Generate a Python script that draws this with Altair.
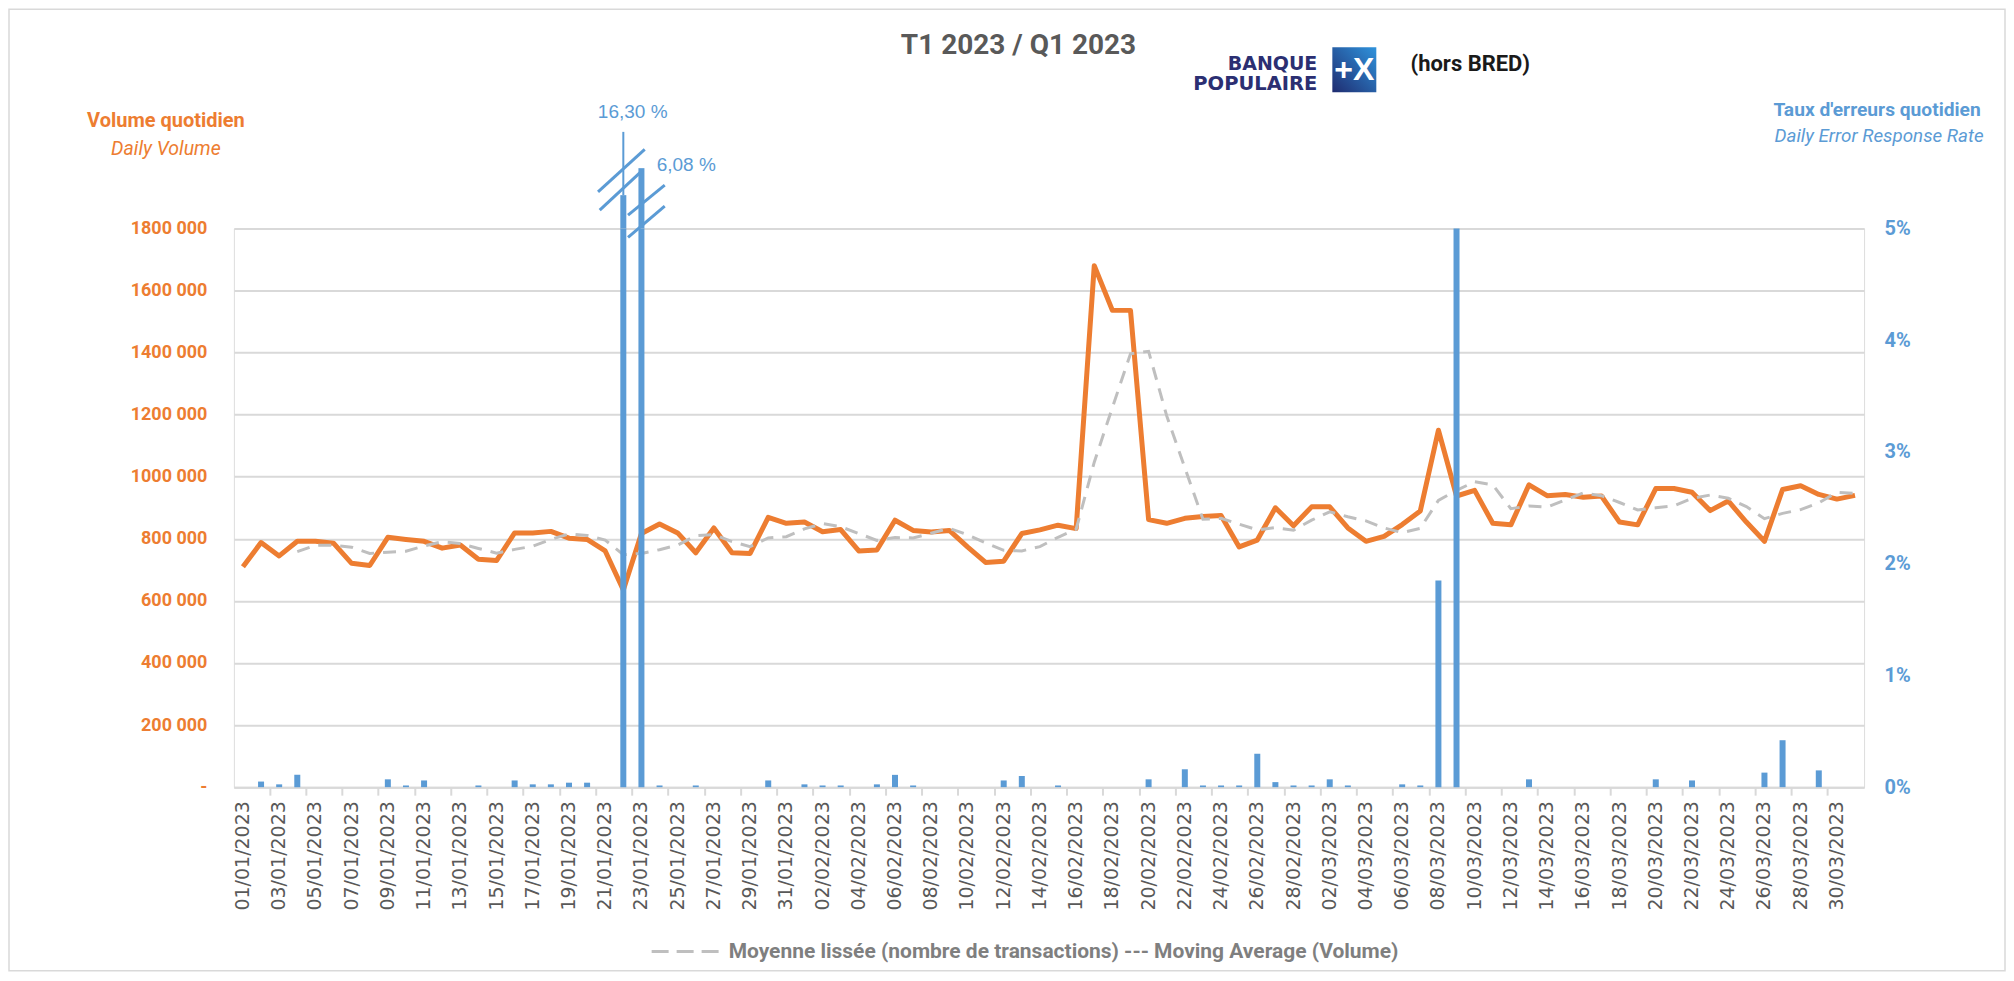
import altair as alt
import pandas as pd

# ---------------- data ----------------
dates = [d.strftime('%d/%m/%Y') for d in pd.date_range('2023-01-01', '2023-03-31')]
label_dates = dates[::2]

# daily volume, thousands of transactions
volume_k = [710, 788, 745, 792, 792, 786, 721, 714, 805, 798,
            792, 770, 780, 734, 730, 819, 819, 824, 802, 798,
            761, 635, 817, 848, 819, 755, 835, 755, 753, 869,
            850, 854, 823, 830, 761, 764, 860, 827, 822, 827,
            774, 724, 728, 817, 829, 844, 833, 1680, 1536, 1536,
            862, 850, 866, 872, 875, 774, 796, 900, 842, 903,
            903, 835, 792, 808, 846, 890, 1150, 938, 956, 850,
            845, 974, 939, 943, 934, 938, 854, 845, 962, 962,
            950, 891, 922, 854, 792, 959, 971, 943, 928, 940]

# moving average (volume), thousands
ma_k = [None, None, None, 759, 779, 779, 773, 753, 757, 760,
        777, 791, 785, 769, 754, 766, 776, 798, 816, 811,
        796, 749, 753, 765, 780, 810, 814, 791, 775, 803,
        807, 832, 849, 839, 817, 795, 804, 803, 818, 834,
        813, 787, 763, 761, 775, 805, 831, 1047, 1223, 1396,
        1404, 1196, 1029, 863, 866, 847, 829, 836, 828, 860,
        887, 871, 858, 835, 820, 834, 924, 956, 984, 974,
        897, 906, 902, 925, 948, 939, 917, 893, 900, 906,
        930, 941, 931, 904, 865, 882, 894, 916, 950, 946]

# daily error response rate, percent
rate_pct = [0, 0.05, 0.025, 0.11, 0, 0, 0, 0, 0.07, 0.015,
            0.06, 0, 0, 0.015, 0, 0.06, 0.025, 0.025, 0.04, 0.04,
            0, 16.30, 6.08, 0.015, 0, 0.015, 0, 0, 0, 0.06,
            0, 0.025, 0.015, 0.015, 0, 0.025, 0.11, 0.015, 0, 0,
            0, 0, 0.06, 0.10, 0, 0.015, 0, 0, 0, 0,
            0.07, 0, 0.16, 0.015, 0.015, 0.015, 0.30, 0.045, 0.015, 0.015,
            0.07, 0.015, 0, 0, 0.025, 0.015, 1.85, 5.00, 0, 0,
            0, 0.07, 0, 0, 0, 0, 0, 0, 0.07, 0,
            0.06, 0, 0, 0, 0.13, 0.42, 0, 0.15, 0, 0]

left_ticks = [0, 200000, 400000, 600000, 800000, 1000000, 1200000, 1400000, 1600000, 1800000]
right_ticks = [0, 0.01, 0.02, 0.03, 0.04, 0.05]
legend_label = 'Moyenne lissée (nombre de transactions) --- Moving Average (Volume)'

# ---------------- styling ----------------
ORANGE = '#ED7D31'
BLUE = '#5B9BD5'
GRID = '#D9D9D9'
FONT = 'Roboto'

W, H = 1631, 559
OX, OY = 234, 228.3          # page position of the plot origin
step = W / len(dates)

df = pd.DataFrame({
    'date': dates,
    'volume': [v * 1000 for v in volume_k],
    'ma': [None if m is None else m * 1000 for m in ma_k],
    'rate': [r / 100 for r in rate_pct],
    'serie': legend_label,
})
df_lab = pd.DataFrame({'date': label_dates})

x_axis = alt.Axis(values=label_dates, bandPosition=0, tickExtra=False, labels=False,
                  domainColor=GRID, domainWidth=2, tickColor=GRID, tickWidth=2,
                  tickSize=8, grid=False, title=None)
x_enc = alt.X('date:N', scale=alt.Scale(domain=dates, paddingInner=0, paddingOuter=0),
              axis=x_axis)

left_axis = alt.Axis(orient='left', values=left_ticks, grid=True, gridColor=GRID, gridWidth=2,
                     domain=False, ticks=False, tickSize=0, labelPadding=27,
                     labelColor=ORANGE, labelFont=FONT, labelFontWeight='bold',
                     labelFontSize=18, title=None,
                     labelExpr="datum.value == 0 ? '-\u00a0\u00a0' : floor(datum.value / 1000) + ' 000'")
vol_scale = alt.Scale(domain=[0, 1800000], nice=False, zero=True)

vol_line = alt.Chart(df).mark_line(color=ORANGE, strokeWidth=5, strokeJoin='round').encode(
    x=x_enc, y=alt.Y('volume:Q', scale=vol_scale, axis=left_axis))

ma_line = alt.Chart(df).mark_line(strokeWidth=3, strokeDash=[13, 9]).encode(
    x=x_enc, y=alt.Y('ma:Q', scale=vol_scale, axis=left_axis),
    color=alt.Color('serie:N', scale=alt.Scale(range=['#BFBFBF']),
                    legend=alt.Legend(title=None, orient='none', legendX=416, legendY=688,
                                      symbolType='stroke', symbolSize=4500,
                                      symbolStrokeWidth=3, symbolDash=[17, 8],
                                      symbolStrokeColor='#BFBFBF', labelFont=FONT,
                                      labelFontSize=21, labelFontWeight='bold',
                                      labelColor='#7F7F7F', labelLimit=0, labelOffset=8,
                                      padding=0)))

right_axis = alt.Axis(orient='right', values=right_ticks, format='.0%', grid=False,
                      domain=False, ticks=False, tickSize=0, labelPadding=20,
                      labelColor=BLUE, labelFont=FONT, labelFontWeight='bold',
                      labelFontSize=20, title=None)
bars = alt.Chart(df).mark_bar(color=BLUE, size=6).encode(
    x=x_enc,
    y=alt.Y('rate:Q', scale=alt.Scale(domain=[0, 0.05], nice=False, clamp=True), axis=right_axis))

# category labels (every other day), rotated like the reference axis
x_labels = alt.Chart(df_lab).mark_text(angle=270, align='right', baseline='middle',
                                       font='DejaVu Sans', fontSize=19, color='#595959').encode(
    x=alt.X('date:N'), y=alt.value(H + 14), text='date:N')

one = pd.DataFrame({'k': [0]})


def rule(x1, y1, x2, y2, width, color=BLUE):
    return alt.Chart(one).mark_rule(color=color, strokeWidth=width).encode(
        x=alt.value(x1), y=alt.value(y1), x2=alt.value(x2), y2=alt.value(y2))


def text(t, px, py, size, color, weight='normal', style='normal', font=FONT, align='center'):
    return alt.Chart(one).mark_text(text=t, font=font, fontSize=size, fontWeight=weight,
                                    fontStyle=style, color=color, align=align,
                                    baseline='middle').encode(
        x=alt.value(px - OX), y=alt.value(py - OY))


# broken bars (22/01 and 23/01) extending above the 5 % ceiling
cx1 = (dates.index('22/01/2023') + 0.5) * step
cx2 = (dates.index('23/01/2023') + 0.5) * step
deco = [
    rule(cx1, 0, cx1, 195 - OY, 6),
    rule(cx1, 195 - OY, cx1, 131.7 - OY, 2),
    rule(cx2, 0, cx2, 168 - OY, 6),
    rule(cx1 - 25.3, 191.7 - OY, cx1 + 21.4, 149.3 - OY, 3),
    rule(cx1 - 23.6, 210 - OY, cx1 + 19.4, 170 - OY, 3),
    rule(cx2 - 13.4, 215 - OY, cx2 + 23.3, 185 - OY, 3),
    rule(cx2 - 13.4, 237.3 - OY, cx2 + 23.3, 206 - OY, 3),
    text('16,30 %', 633, 112, 19, BLUE, font='Liberation Sans'),
    text('6,08 %', 657, 165, 19, BLUE, font='Liberation Sans', align='left'),
]

# chart frame
frame = alt.Chart(one).mark_rect(fillOpacity=0, stroke=GRID, strokeWidth=1.5).encode(
    x=alt.value(9 - OX), x2=alt.value(2006 - OX), y=alt.value(9 - OY), y2=alt.value(971 - OY))

# logo box
logo_box = alt.Chart(one).mark_rect(
    color=alt.LinearGradient(gradient='linear',
                             stops=[alt.GradientStop(color='#1F2C70', offset=0),
                                    alt.GradientStop(color='#2F93DC', offset=1)],
                             x1=0, y1=1, x2=1, y2=0)).encode(
    x=alt.value(1333 - OX), x2=alt.value(1377 - OX), y=alt.value(47 - OY), y2=alt.value(92 - OY))

texts = [
    text('T1 2023 / Q1 2023', 1019, 46, 28, '#595959', weight='bold'),
    text('BANQUE', 1318, 64, 19, '#2B2F72', weight='bold', font='DejaVu Sans', align='right'),
    text('POPULAIRE', 1318, 84, 19.5, '#2B2F72', weight='bold', font='DejaVu Sans', align='right'),
    text('+X', 1355, 70, 32, 'white', weight='bold', font='Liberation Sans'),
    text('(hors BRED)', 1471, 64, 22, '#1A1A1A', weight='bold'),
    text('Volume quotidien', 166, 121, 20, ORANGE, weight='bold'),
    text('Daily Volume', 166, 149, 19.5, ORANGE, style='italic'),
    text("Taux d'erreurs quotidien", 1878, 110, 19.2, BLUE, weight='bold'),
    text('Daily Error Response Rate', 1880, 136, 18.8, BLUE, style='italic'),
]

chart = alt.layer(
    frame,
    alt.layer(vol_line, ma_line),
    bars,
    x_labels,
    *deco,
    logo_box,
    *texts,
).resolve_scale(y='independent', color='independent').properties(
    width=W, height=H,
    autosize=alt.AutoSizeParams(type='none'),
    padding={'left': OX - 8, 'top': OY - 8, 'right': 142, 'bottom': 185},
).configure_view(stroke=None).configure(background='white')

chart.save('out.html', embed_options={'renderer': 'svg', 'actions': False})
